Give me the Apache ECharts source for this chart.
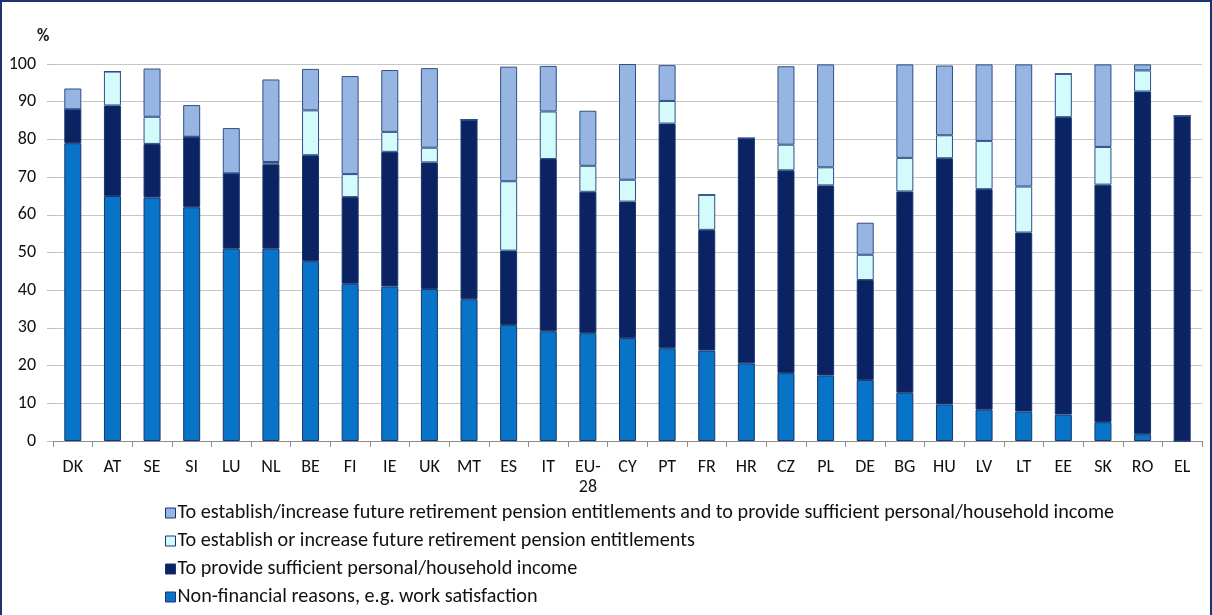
<!DOCTYPE html>
<html>
<head>
<meta charset="utf-8">
<script src="https://cdn.jsdelivr.net/npm/echarts@6/dist/echarts.min.js"></script>
<style>
html,body{margin:0;padding:0;background:#fff;}
#frame{position:absolute;left:0;top:0;width:1208px;height:620px;border:2px solid #1c3370;border-bottom:none;}
#chart{position:absolute;left:0;top:0;width:1212px;height:615px;}
</style>
</head>
<body>
<div id="frame"></div>
<div id="chart"></div>
<script>
const categories = ['DK','AT','SE','SI','LU','NL','BE','FI','IE','UK','MT','ES','IT','EU-\n28','CY','PT','FR','HR','CZ','PL','DE','BG','HU','LV','LT','EE','SK','RO','EL'];
const nonFinancial = [79,65,64.6,62,51,51,47.7,41.7,41,40.3,37.6,30.8,29.1,28.6,27.3,24.6,24,20.6,18,17.4,16.2,12.8,9.7,8.3,7.8,7,5,1.8,0];
const incomeOnly   = [9,24,14.2,18.7,20,22.4,28.1,23,35.7,33.6,47.6,19.7,45.7,37.5,36.2,59.6,32,59.7,53.8,50.4,26.5,53.4,65.3,58.5,47.5,78.9,63,90.9,86.2];
const pensionOnly  = [0,9,7.2,0,0,0.6,11.9,6.1,5.3,3.9,0,18.4,12.6,6.9,5.8,6,9.3,0,6.8,4.8,6.7,8.9,6.1,12.8,12.2,11.5,10,5.6,0];
const pensionAndIncome = [5.5,0,12.8,8.4,12,21.9,11,26,16.4,21.1,0,30.4,12.1,14.6,30.7,9.5,0,0,20.8,27.3,8.5,24.8,18.5,20.3,32.4,0,21.9,1.6,0];
const yTicks = [0,10,20,30,40,50,60,70,80,90,100];
const names = [
  'Non-financial reasons, e.g. work satisfaction',
  'To provide sufficient personal/household income',
  'To establish or increase future retirement pension entitlements',
  'To establish/increase future retirement pension entitlements and to provide sufficient personal/household income'
];
const FONT = 'Carlito, Lato, sans-serif';
const chart = echarts.init(document.getElementById('chart'), null, {renderer:'canvas'});
function mk(name, data, color, border){
  return {name, type:'bar', stack:'s', data, barWidth:17,
    itemStyle:{color, borderColor:border, borderWidth:1}, emphasis:{disabled:true}};
}
chart.setOption({
  animation:false,
  textStyle:{fontFamily:FONT},
  grid:{left:53, right:10, top:64, bottom:174, containLabel:false},
  graphic:[{type:'text', left:37, top:28, style:{text:'%', font:'bold 17px '+FONT, fill:'#1a1a1a'}}],
  legend:{
    orient:'vertical', left:165, top:503, height:112, padding:0,
    itemWidth:10, itemHeight:10, itemGap:8,
    icon:'rect',
    data:[names[3],names[2],names[1],names[0]],
    textStyle:{fontSize:20.2, color:'#111', lineHeight:20, fontFamily:FONT, padding:[0,0,0,-3]},
    itemStyle:{borderColor:'#1c3370', borderWidth:1}
  },
  xAxis:{type:'category', data:categories,
    axisLine:{lineStyle:{color:'#8c8c8c'}},
    axisTick:{show:true, length:6, lineStyle:{color:'#8c8c8c'}},
    axisLabel:{fontSize:18, color:'#111', margin:16, lineHeight:20, interval:0, fontFamily:FONT}
  },
  yAxis:{type:'value', min:0, max:100, interval:10,
    axisLine:{show:false},
    axisTick:{show:true, length:6, lineStyle:{color:'#bdbdbd'}},
    splitLine:{lineStyle:{color:'#c6c6c6'}},
    axisLabel:{fontSize:18, color:'#111', margin:17, fontFamily:FONT}
  },
  series:[
    mk(names[0], nonFinancial, '#0874c8', '#17366e'),
    mk(names[1], incomeOnly, '#0c2363', '#17366e'),
    mk(names[2], pensionOnly, '#d3fbfb', '#2f4f86'),
    mk(names[3], pensionAndIncome, '#96b5e3', '#2f4f86')
  ]
});
</script>
</body>
</html>
